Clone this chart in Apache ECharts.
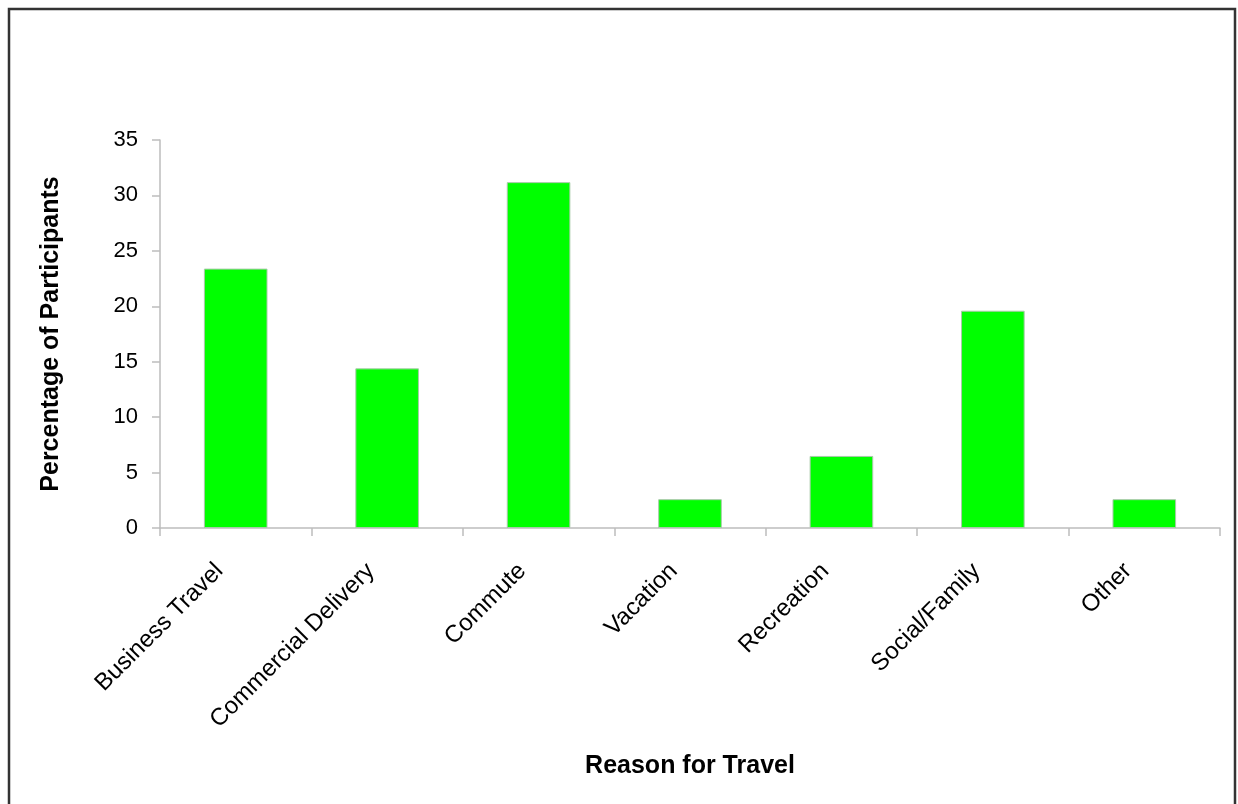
<!DOCTYPE html>
<html>
<head>
<meta charset="utf-8">
<script src="https://cdn.jsdelivr.net/npm/echarts@6/dist/echarts.min.js"></script>
<style>
  html, body { margin: 0; padding: 0; background: #fff; }
  #chart { width: 1238px; height: 804px; }
</style>
</head>
<body>
<div id="chart"></div>
<script>
// Reasons for travel and share of participants (%)
const categories = ['Business Travel', 'Commercial Delivery', 'Commute', 'Vacation', 'Recreation', 'Social/Family', 'Other'];
const percentages = [23.4, 14.4, 31.2, 2.6, 6.5, 19.6, 2.6];
const yTicks = { min: 0, max: 35, interval: 5 };

const chart = echarts.init(document.getElementById('chart'), null, { renderer: 'canvas' });
const font = 'Liberation Sans, Arial, sans-serif';

chart.setOption({
  backgroundColor: '#ffffff',
  animation: false,
  graphic: [{
    type: 'rect',
    shape: { x: 9, y: 9, width: 1226, height: 840 },
    style: { fill: 'none', stroke: '#333333', lineWidth: 2.5 },
    silent: true
  }],
  grid: { left: 160, right: 18, top: 140, bottom: 276 },
  xAxis: {
    type: 'category',
    data: categories,
    name: 'Reason for Travel',
    nameLocation: 'middle',
    nameGap: 226,
    nameTextStyle: { fontFamily: font, fontSize: 25, fontWeight: 'bold', color: '#000' },
    axisLine: { lineStyle: { color: '#bdbdbd', width: 1.5 } },
    axisTick: { show: true, length: 8, lineStyle: { color: '#bdbdbd', width: 1.5 } },
    axisLabel: { rotate: 45, margin: 23, padding: [0, 23, 0, 0], fontFamily: font, fontSize: 24, color: '#000' }
  },
  yAxis: {
    type: 'value',
    min: yTicks.min,
    max: yTicks.max,
    interval: yTicks.interval,
    name: 'Percentage of Participants',
    nameLocation: 'middle',
    nameGap: 96,
    nameRotate: 90,
    nameTextStyle: { fontFamily: font, fontSize: 25, fontWeight: 'bold', color: '#000' },
    splitLine: { show: false },
    axisLine: { show: true, lineStyle: { color: '#bdbdbd', width: 1.5 } },
    axisTick: { show: true, length: 8, lineStyle: { color: '#bdbdbd', width: 1.5 } },
    axisLabel: { margin: 22, fontFamily: font, fontSize: 22, color: '#000' }
  },
  series: [{
    type: 'bar',
    data: percentages,
    barCategoryGap: '58%',
    itemStyle: { color: '#00ff00', borderColor: '#a9c9a9', borderWidth: 1 }
  }]
});
</script>
</body>
</html>
